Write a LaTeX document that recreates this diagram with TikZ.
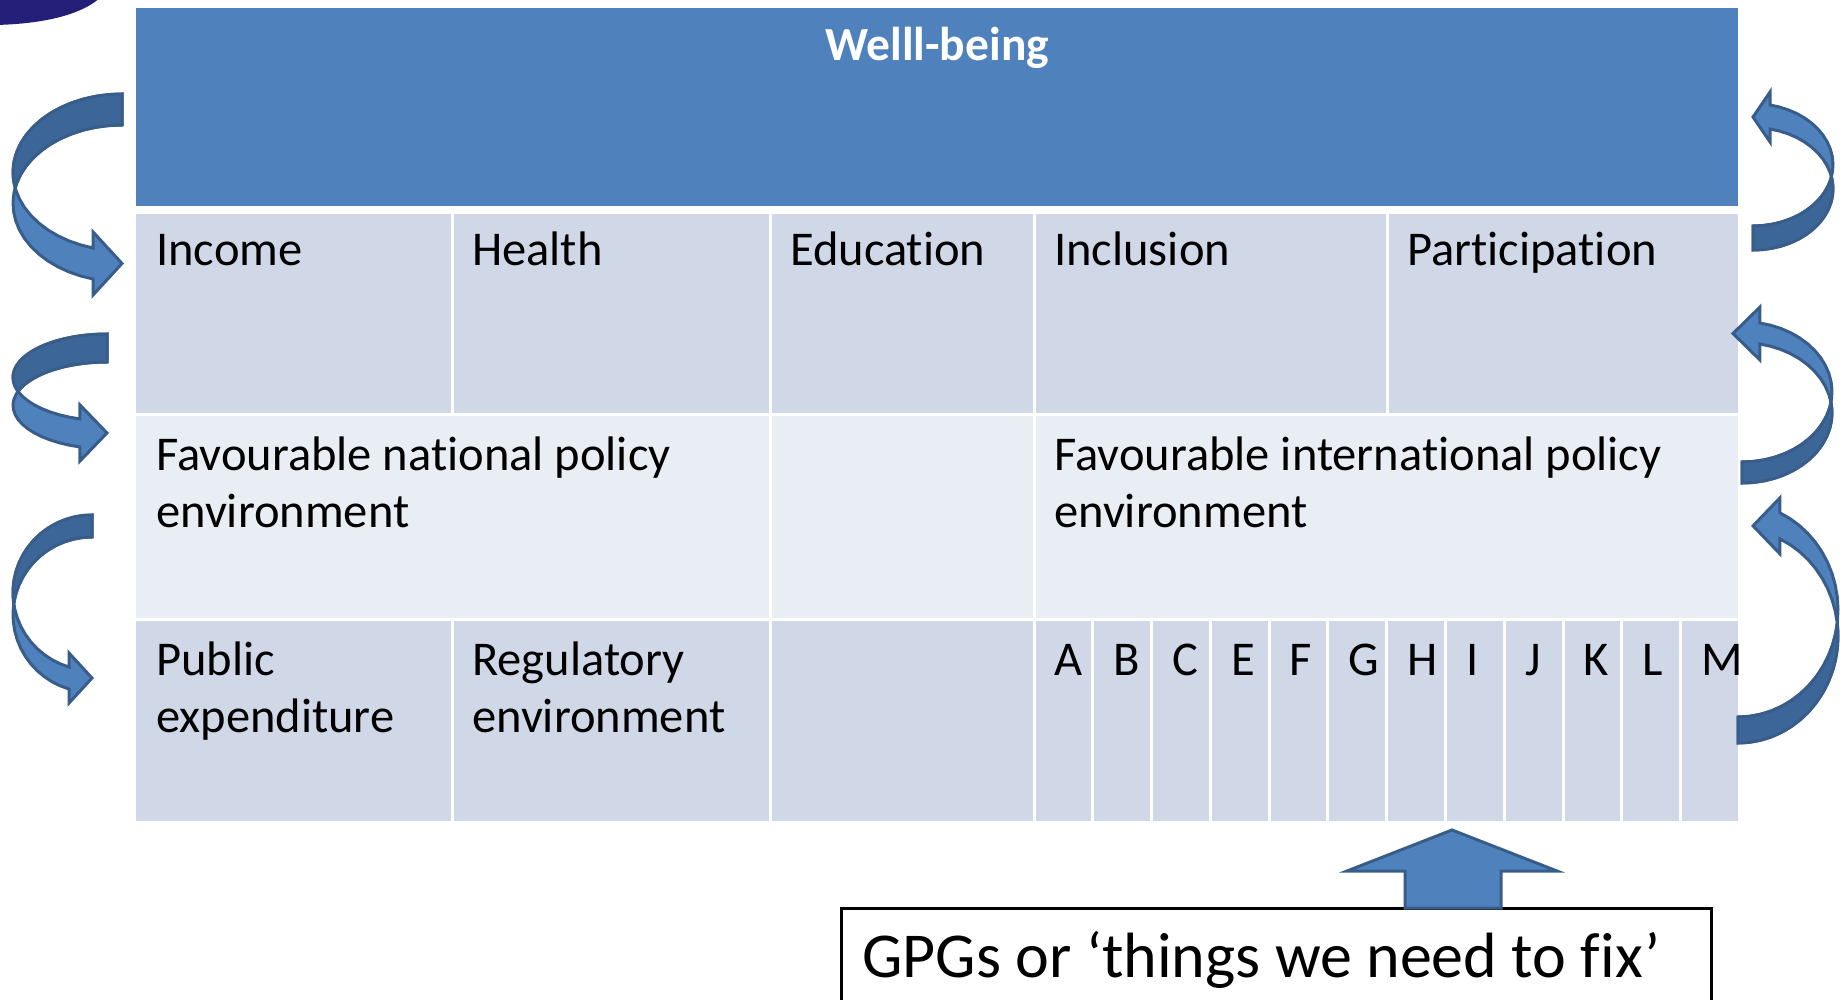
\documentclass[tikz,border=0pt]{standalone}
\usepackage{fontspec}
\setmainfont{Carlito}[Ligatures={TeX,NoCommon}]
\newcommand{\curvedblock}[6]{%
  \pgfmathsetmacro{\crossA}{180-asin(#3/(2*#2))}%
  \pgfmathsetmacro{\crossB}{180+asin(#3/(2*#2))}%
  \filldraw[arrowfront] plot[domain=270:#4] ({#1*cos(\x)},{#2*sin(\x)})
    -- ({#1*cos(#4)},{#2*sin(#4)-#5}) -- ({#6},{#2*sin(#4)+#3/2})
    -- ({#1*cos(#4)},{#2*sin(#4)+#3+#5})
    -- plot[domain=#4:270] ({#1*cos(\x)},{#3+#2*sin(\x)}) -- cycle;
  \filldraw[arrowback] plot[domain=270:\crossA] ({#1*cos(\x)},{#2*sin(\x)})
    -- plot[domain=\crossB:270] ({#1*cos(\x)},{#3+#2*sin(\x)}) -- cycle;
}
\begin{document}
\begin{tikzpicture}[x=1pt,y=-1pt,
  cell/.style={draw=white,line width=3pt,anchor=north west,inner sep=0pt,outer sep=0pt},
  celltext/.style={anchor=base west,inner sep=0pt,font=\fontsize{48.5}{58}\selectfont},
  arrowfront/.style={fill=arrowblue,draw=arrowedge,line width=3pt},
  arrowback/.style={fill=arrowdark,draw=arrowedge,line width=3pt}]
\definecolor{headblue}{RGB}{79,129,189}
\definecolor{rowdark}{RGB}{208,216,232}
\definecolor{rowlight}{RGB}{233,237,244}
\definecolor{arrowblue}{RGB}{79,129,189}
\definecolor{arrowdark}{RGB}{61,102,152}
\definecolor{arrowedge}{RGB}{56,93,138}
\definecolor{navy}{RGB}{35,31,120}
\useasboundingbox (0,0) rectangle (1840,1000);
\fill[navy] (-5,-5) -- (-5,25) .. controls (45,24) and (85,14) .. (103,-5) -- cycle;
\node[cell,draw=none,fill=headblue,minimum width=1602pt,minimum height=198pt] (wellbeing) at (136,8) {};
\node[anchor=base,inner sep=0pt,text=white,font=\fontsize{47.5}{57.5}\selectfont\bfseries] (welltxt) at (937,61) {Welll-being};
\node[cell,fill=rowdark,minimum width=317.5pt,minimum height=201.5pt] (income) at (134.5,212.5) {};
\node[cell,fill=rowdark,minimum width=318pt,minimum height=201.5pt] (health) at (452,212.5) {};
\node[cell,fill=rowdark,minimum width=264pt,minimum height=201.5pt] (education) at (770,212.5) {};
\node[cell,fill=rowdark,minimum width=353pt,minimum height=201.5pt] (inclusion) at (1034,212.5) {};
\node[cell,fill=rowdark,minimum width=352.5pt,minimum height=201.5pt] (participation) at (1387,212.5) {};
\node[celltext] (incometxt) at (156,266) {Income};
\node[celltext] (healthtxt) at (472,266) {Health};
\node[celltext] (educationtxt) at (790,266) {Education};
\node[celltext] (inclusiontxt) at (1054,266) {Inclusion};
\node[celltext] (participationtxt) at (1407,266) {Participation};
\node[cell,fill=rowlight,minimum width=635.5pt,minimum height=205pt] (natpolicy) at (134.5,414) {};
\node[cell,fill=rowlight,minimum width=264pt,minimum height=205pt] (midgap) at (770,414) {};
\node[cell,fill=rowlight,minimum width=705.5pt,minimum height=205pt] (intpolicy) at (1034,414) {};
\node[celltext] (nattxt) at (156,470) {Favourable national policy};
\node[celltext] (nattxtb) at (156,527.5) {environment};
\node[celltext] (inttxt) at (1054,470) {Favourable international policy};
\node[celltext] (inttxtb) at (1054,527.5) {environment};
\node[cell,fill=rowdark,minimum width=317.5pt,minimum height=203pt] (pubexp) at (134.5,619) {};
\node[cell,fill=rowdark,minimum width=318pt,minimum height=203pt] (regenv) at (452,619) {};
\node[cell,fill=rowdark,minimum width=264pt,minimum height=203pt] (lowgap) at (770,619) {};
\node[celltext] (pubtxt) at (156,675) {Public};
\node[celltext] (pubtxtb) at (156,732.5) {expenditure};
\node[celltext] (regtxt) at (472,675) {Regulatory};
\node[celltext] (regtxtb) at (472,732.5) {environment};
\foreach \lt [count=\i from 0] in {A,B,C,E,F,G,H,I,J,K,L,M} {
  \node[cell,fill=rowdark,minimum width=58.79pt,minimum height=203pt] (gpg\lt) at ({1034+58.79*\i},619) {};
  \node[celltext] (gpgtxt\lt) at ({1054.5+58.79*\i},675) {\lt};
}
\begin{scope}[shift={(122,172.4)}]
\curvedblock{109}{78.4}{31}{105.4}{16}{0}
\end{scope}
\begin{scope}[shift={(107,377.4)}]
\curvedblock{94}{43.4}{28}{106.7}{14}{0}
\end{scope}
\begin{scope}[shift={(92,592.7)}]
\curvedblock{79}{77.7}{22}{106.9}{14}{0}
\end{scope}
\begin{scope}[shift={(1753,188.8)},rotate=180]
\curvedblock{80}{61.2}{24}{102.3}{13}{0}
\end{scope}
\begin{scope}[shift={(1742,412.8)},rotate=180]
\curvedblock{90}{70.2}{21}{101.5}{16}{9}
\end{scope}
\begin{scope}[shift={(1738,636)},rotate=180]
\curvedblock{100}{107}{26}{114.8}{15}{-15}
\end{scope}
\node[draw=black,line width=3pt,anchor=north west,inner sep=0pt,minimum width=870pt,minimum height=130pt] (gpgbox) at (840,907) {};
\node[anchor=base west,inner sep=0pt,font=\fontsize{64}{77}\selectfont] (gpgtxt) at (862,977) {GPGs or ‘things we need to fix’};
\filldraw[arrowfront] (1452,830) -- (1557,871) -- (1501,871) -- (1501,908) -- (1405,908) -- (1405,871) -- (1347,871) -- cycle;
\end{tikzpicture}
\end{document}
